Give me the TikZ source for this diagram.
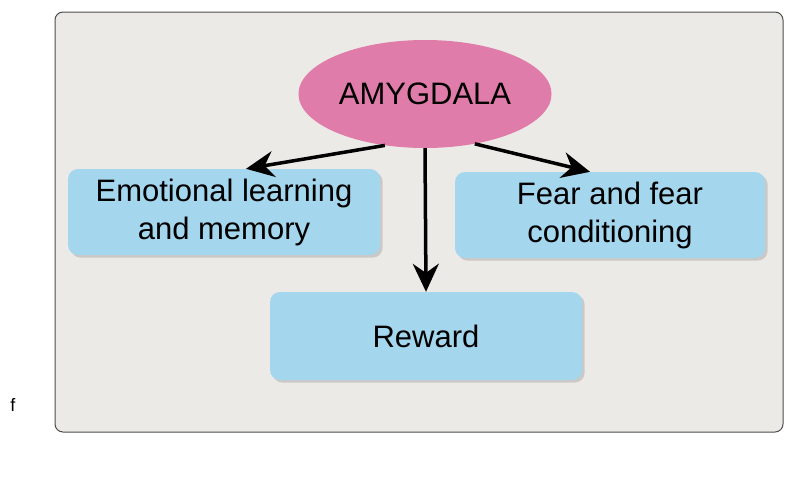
\documentclass[tikz,border=0pt]{standalone}
\usepackage{fontspec}
\setmainfont{Liberation Sans}
\usetikzlibrary{arrows.meta, shadows, shapes.geometric}
\definecolor{panelgray}{RGB}{236,234,230}
\definecolor{amypink}{RGB}{224,124,170}
\definecolor{boxblue}{RGB}{164,214,238}
\begin{document}
\begin{tikzpicture}[
    x=1pt, y=-1pt,
    box/.style={rectangle, rounded corners=10pt, fill=boxblue, align=center,
                font=\fontsize{31}{38}\selectfont, drop shadow={opacity=0.3}},
    arrow/.style={-{Stealth[length=28pt,width=26pt]}, line width=3.5pt}
]
\useasboundingbox (0,0) rectangle (810,488);
\draw[rounded corners=8pt, fill=panelgray, draw=black!70, line width=1pt] (55,12) rectangle (783,432);

\node[ellipse, fill=amypink, minimum width=240pt, minimum height=108pt,
      font=\fontsize{31}{38}\selectfont] (amy) at (425,94) {AMYGDALA};
\node[box, minimum width=312pt, minimum height=86pt] (emo) at (224,212) {Emotional learning\\and memory};
\node[box, minimum width=310pt, minimum height=86pt] (fear) at (610,215) {Fear and fear\\conditioning};
\node[box, minimum width=312pt, minimum height=88pt] (rew) at (426,336) {Reward};

\draw[arrow] (amy.-128) -- ([xshift=22pt]emo.north);
\draw[arrow] (amy.south) -- (rew.north);
\draw[arrow] (amy.-45) -- ([xshift=-20pt]fear.north);

\node[font=\fontsize{18}{20}\selectfont\rmfamily] (f) at (13,405) {f};
\end{tikzpicture}
\end{document}
